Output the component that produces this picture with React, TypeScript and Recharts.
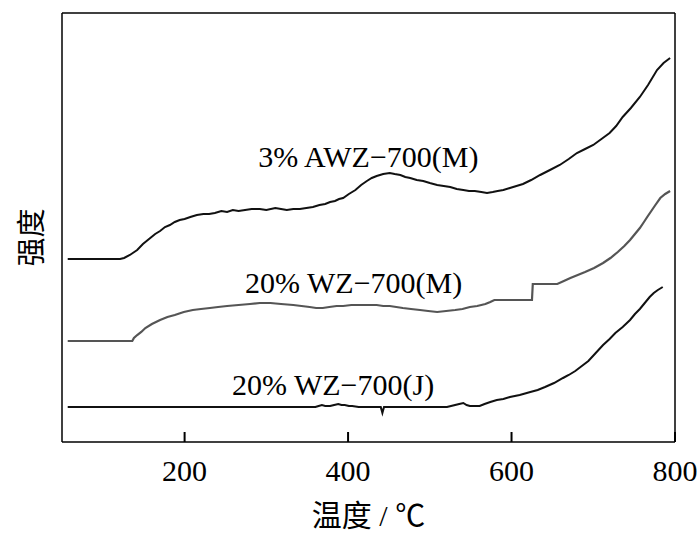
import { LineChart, Line, XAxis, YAxis, ReferenceDot } from 'recharts';

// temperature (°C) and intensity (a.u.)
const temps1 = [57, 121, 126, 133, 142, 149, 158, 164, 170, 176, 182, 188, 194, 200, 207, 215, 223, 230, 237, 245, 252, 259, 266, 274, 282, 292, 300, 311, 318, 325, 333, 341, 349, 357, 365, 372, 378, 384, 389, 394, 401, 409, 416, 423, 429, 435, 443, 451, 457, 464, 470, 476, 484, 492, 500, 509, 517, 525, 533, 541, 548, 555, 563, 570, 577, 583, 590, 598, 606, 614, 624, 635, 647, 659, 670, 680, 690, 700, 710, 720, 728, 736, 746, 757, 767, 778, 786, 794];
const awz3M = [183, 183, 184, 187, 192, 198, 204, 208, 211, 215, 217, 220, 222, 223, 225, 227, 228, 228, 229, 231, 230, 232, 231, 232, 233, 233, 232, 234, 233, 232, 233, 233, 234, 235, 237, 238, 240, 241, 243, 244, 248, 252, 257, 261, 264, 266, 268, 269, 268, 267, 265, 264, 262, 261, 259, 257, 256, 255, 253, 252, 251, 251, 250, 249, 250, 251, 252, 254, 256, 258, 262, 267, 272, 277, 283, 289, 293, 297, 303, 309, 316, 325, 334, 345, 357, 372, 379, 384];

const temps2 = [57, 136, 138, 142, 147, 152, 160, 170, 179, 188, 199, 210, 220, 231, 241, 252, 266, 280, 292, 305, 318, 333, 343, 353, 361, 369, 377, 386, 394, 404, 415, 425, 435, 443, 451, 459, 467, 477, 488, 498, 509, 520, 531, 540, 549, 558, 568, 574, 579, 625, 626, 656, 664, 672, 681, 690, 701, 712, 721, 730, 738, 745, 751, 757, 762, 766, 771, 776, 782, 788, 794];
const wz20M = [101, 101, 104, 107, 110, 114, 118, 122, 125, 127, 130, 132, 133, 134, 135, 136, 137, 138, 139, 139, 138, 137, 136, 135, 134, 134, 135, 136, 136, 137, 137, 137, 137, 136, 136, 135, 134, 133, 132, 131, 130, 131, 132, 133, 135, 136, 138, 140, 142, 142, 158, 158, 161, 164, 167, 170, 174, 179, 184, 190, 196, 202, 208, 214, 220, 225, 231, 237, 244, 248, 251];

const temps3 = [57, 300, 360, 364, 368, 372, 378, 383, 388, 392, 396, 401, 405, 413, 421, 437, 440, 442, 444, 460, 480, 500, 521, 526, 531, 536, 541, 545, 549, 555, 561, 567, 574, 582, 590, 598, 610, 623, 632, 641, 652, 663, 670, 678, 686, 694, 703, 712, 720, 727, 736, 745, 751, 757, 763, 769, 774, 779, 785];
const wz20J = [35, 35, 35, 36, 37, 36, 36, 37, 38, 37, 37, 36, 36, 35, 35, 35, 35, 29, 35, 35, 35, 35, 35, 36, 37, 38, 39, 37, 36, 36, 36, 38, 40, 42, 43, 45, 47, 50, 52, 55, 59, 64, 67, 71, 76, 81, 89, 97, 103, 109, 115, 122, 128, 133, 139, 145, 149, 152, 155];

const seriesNames = ['3% AWZ−700(M)', '20% WZ−700(M)', '20% WZ−700(J)'];
const xTicks = [200, 400, 600, 800];

const zip = (t: number[], v: number[]) => t.map((x, i) => ({ t: x, v: v[i] }));
const data1 = zip(temps1, awz3M);
const data2 = zip(temps2, wz20M);
const data3 = zip(temps3, wz20J);

// where each curve name sits (left end of its baseline), in data units
const labelAt = [
  { t: 290, v: 275 },
  { t: 274, v: 149 },
  { t: 258, v: 47 },
];

const SERIF = "'Liberation Serif', 'Times New Roman', 'Noto Sans CJK SC', serif";
const CJK = "'Noto Sans CJK SC', 'Liberation Serif', serif";
const AXIS = { stroke: '#000', strokeWidth: 1.5 };

// ticks point into the plot, label sits below the axis
const InTick = (props: any) => {
  const { x, y, payload } = props;
  return (
    <g>
      <path d={`M${x},${y}V${y - 10}`} stroke="#000" strokeWidth={2} fill="none" />
      <text x={x} y={y + 39} textAnchor="middle" fontSize={30} fontFamily={SERIF} fill="#000">
        {payload.value}
      </text>
    </g>
  );
};

export default function App() {
  return (
    <div style={{ position: 'absolute', left: 0, top: 0, background: '#fff' }}>
      <style>{'body{margin:0}'}</style>
      <LineChart width={700} height={538} margin={{ top: 12, right: 24, left: 61, bottom: 0 }}>
        <XAxis
          dataKey="t"
          type="number"
          domain={[50, 800]}
          ticks={xTicks}
          allowDataOverflow
          height={96}
          tickSize={0}
          tickMargin={0}
          tickLine={false}
          tick={<InTick />}
          axisLine={AXIS}
          label={{
            content: ({ viewBox }: any) => (
              <text
                x={viewBox.x + viewBox.width / 2}
                y={viewBox.y + 84}
                textAnchor="middle"
                fontSize={30}
                fontFamily={SERIF}
                fill="#000"
              >
                温度 / ℃
              </text>
            ),
          }}
        />
        <XAxis
          xAxisId="top"
          orientation="top"
          type="number"
          domain={[50, 800]}
          height={1}
          tick={false}
          tickLine={false}
          axisLine={AXIS}
        />
        <YAxis
          type="number"
          domain={[0, 429]}
          width={1}
          tick={false}
          tickLine={false}
          axisLine={AXIS}
          label={{
            content: ({ viewBox }: any) => {
              const cx = viewBox.x - 32;
              const cy = viewBox.y + viewBox.height / 2 + 10;
              return (
                <text
                  x={cx}
                  y={cy}
                  transform={`rotate(-90 ${cx} ${cy})`}
                  textAnchor="middle"
                  dominantBaseline="central"
                  fontSize={29}
                  fontFamily={CJK}
                  fill="#000"
                >
                  强度
                </text>
              );
            },
          }}
        />
        <YAxis
          yAxisId="right"
          orientation="right"
          type="number"
          domain={[0, 429]}
          width={1}
          tick={false}
          tickLine={false}
          axisLine={AXIS}
        />
        <Line data={data1} dataKey="v" type="linear" stroke="#111" strokeWidth={2} dot={false} isAnimationActive={false} />
        <Line data={data2} dataKey="v" type="linear" stroke="#555" strokeWidth={2.2} dot={false} isAnimationActive={false} />
        <Line data={data3} dataKey="v" type="linear" stroke="#111" strokeWidth={2} dot={false} isAnimationActive={false} />
        {seriesNames.map((name, i) => (
          <ReferenceDot
            key={name}
            x={labelAt[i].t}
            y={labelAt[i].v}
            r={0}
            shape={(p: any) => (
              <text x={p.cx} y={p.cy} fontSize={30} fontFamily={SERIF} fill="#000">
                {name}
              </text>
            )}
          />
        ))}
      </LineChart>
    </div>
  );
}
